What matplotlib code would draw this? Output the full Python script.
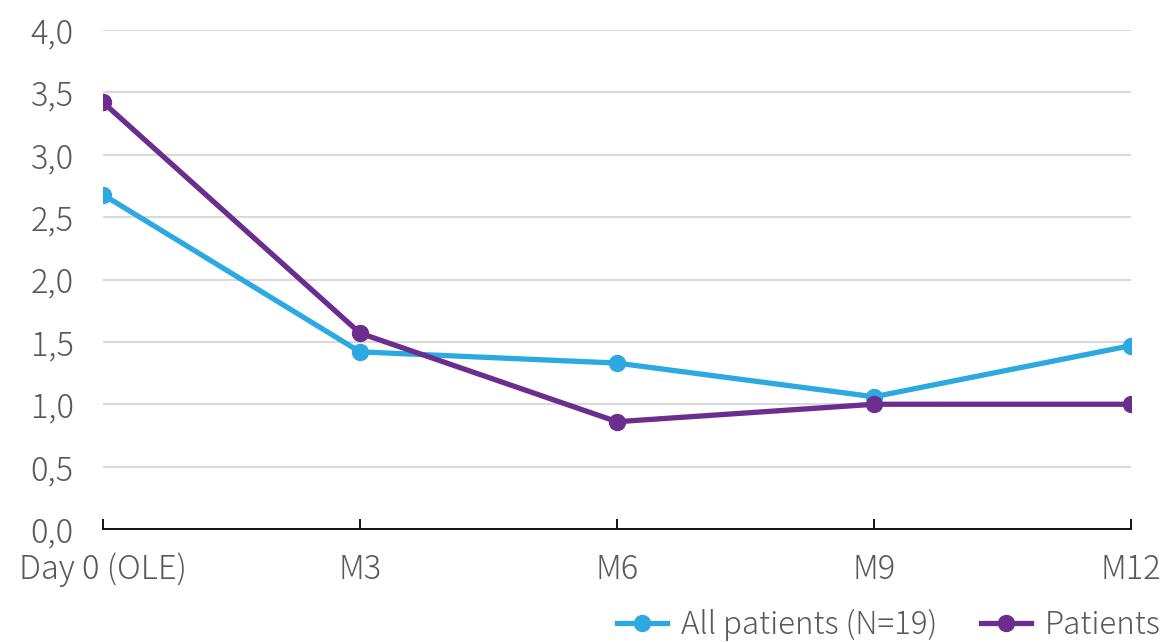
import matplotlib.pyplot as plt
from matplotlib.ticker import FuncFormatter, MultipleLocator

plt.rcParams['font.family'] = ['Noto Sans CJK JP', 'DejaVu Sans']
plt.rcParams['font.weight'] = 'light'

# Data
timepoints = ['Day 0 (OLE)', 'M3', 'M6', 'M9', 'M12']
all_patients = [2.68, 1.42, 1.33, 1.06, 1.47]
patients = [3.42, 1.57, 0.86, 1.00, 1.00]
series_labels = ['All patients (N=19)', 'Patients']

blue = '#2CA9E1'
purple = '#6B2D8E'
grey_text = '#595959'

fig = plt.figure(figsize=(11.68, 6.42), dpi=100)
ax = fig.add_axes([103 / 1168, 1 - 529 / 642, (1131 - 103) / 1168, (529 - 30) / 642])

x = list(range(len(timepoints)))
ax.plot(x, all_patients, color=blue, lw=3.8, marker='o', ms=11.5, label=series_labels[0], zorder=3)
ax.plot(x, patients, color=purple, lw=3.8, marker='o', ms=11.5, label=series_labels[1], zorder=4)

ax.set_xlim(0, len(timepoints) - 1)
ax.set_ylim(0, 4.0)
ax.yaxis.set_major_locator(MultipleLocator(0.5))
ax.yaxis.set_major_formatter(FuncFormatter(lambda v, p: f'{v:.1f}'.replace('.', ',')))
ax.set_xticks(x)
ax.set_xticklabels(timepoints)

ax.grid(axis='y', color='#d9d9d9', lw=1.5)
ax.set_axisbelow(True)
for s in ['top', 'right', 'left']:
    ax.spines[s].set_visible(False)
ax.spines['bottom'].set_color('black')
ax.spines['bottom'].set_linewidth(1.3)

ax.tick_params(axis='y', length=0, pad=21, labelsize=23.5, labelcolor=grey_text)
ax.tick_params(axis='x', direction='in', length=7, width=1.3, pad=17, labelsize=23.5, labelcolor=grey_text)

leg = fig.legend(loc='upper left', bbox_to_anchor=(604 / 1168, 1 - 596 / 642), ncol=2,
                 frameon=False, fontsize=22.5, handlelength=1.6, handletextpad=0.45,
                 columnspacing=1.4, borderaxespad=0)
for t in leg.get_texts():
    t.set_color(grey_text)

fig.savefig('out.png', dpi=100)
